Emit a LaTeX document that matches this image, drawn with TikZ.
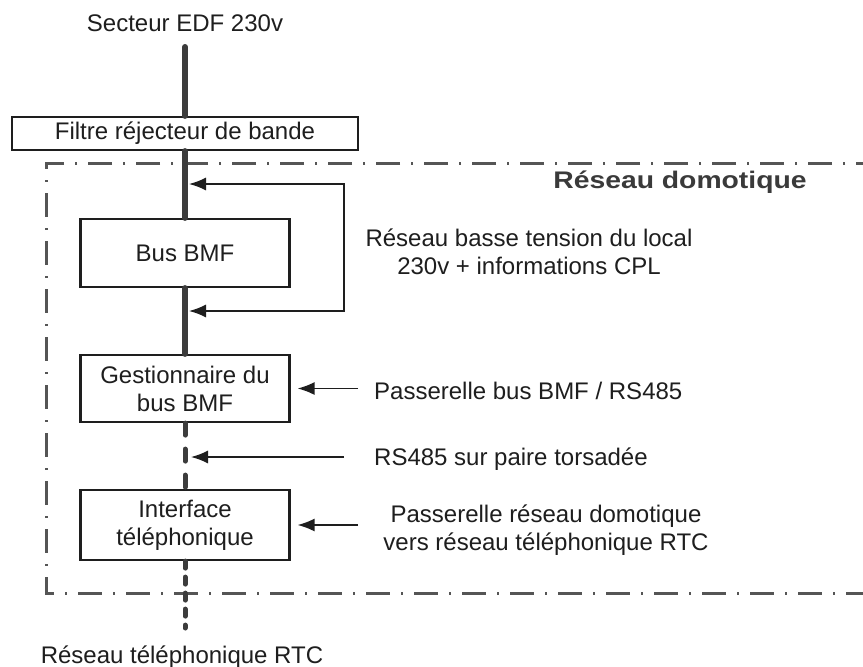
\documentclass[tikz,border=0pt]{standalone}
\usepackage{fontspec}
\setmainfont{Liberation Sans}
\usetikzlibrary{arrows.meta}
\definecolor{ink}{HTML}{1E1E1E}
\definecolor{busc}{HTML}{3C3C3C}
\definecolor{framec}{HTML}{555555}
\definecolor{titlec}{HTML}{3A3A3A}
\begin{document}
\begin{tikzpicture}[x=1pt,y=-1pt,
  every node/.style={font=\fontsize{24}{28}\selectfont, text=ink, inner sep=0pt},
  box/.style={draw=ink, line width=2.2pt, minimum width=209pt, align=center},
  busline/.style={draw=busc, line width=6pt, line cap=round},
  busdash/.style={draw=busc, line width=5pt, line cap=round, dash pattern=on 12pt off 14pt},
  busdashfine/.style={draw=busc, line width=5pt, line cap=round, dash pattern=on 7pt off 9pt},
  arr/.style={draw=ink, line width=1.5pt, -{Latex[length=17pt,width=13pt]}},
  frameline/.style={draw=framec, line width=3pt, dash pattern=on 24pt off 11pt on 2pt off 11pt},
  lbl/.style={anchor=west}]
\useasboundingbox (0,0) rectangle (863,667);
\clip (0,0) rectangle (863,667);
\fill[white] (0,0) rectangle (863,667);

% frame of the home network
\coordinate (fr1) at (880,163);
\coordinate (fr2) at (46,163);
\coordinate (fr3) at (46,593);
\coordinate (fr4) at (880,593);
\draw[frameline] (fr1) -- (fr2) -- (fr3) -- (fr4);

% blocks
\node (secteur) at (185,23.5) {Secteur EDF 230v};
\node[box, minimum width=346pt, minimum height=33pt] (filtre) at (185,133.5) {Filtre réjecteur de bande};
\node[box, minimum height=68pt] (bus) at (185,253) {Bus BMF};
\node[box, minimum height=67pt] (gest) at (185,388.5) {Gestionnaire du\\bus BMF};
\node[box, minimum height=70pt] (iface) at (185,525) {Interface\\téléphonique};
\node (rtcl) at (182,657) {Réseau téléphonique RTC};
\node[text=titlec] (titre) at (680,182.5) {\scalebox{1.18}[1]{\bfseries Réseau domotique}};

% bus lines
\coordinate (src) at (185,47);
\coordinate (rtc) at (185,628);
\draw[busline] (src) -- (filtre.north);
\draw[busline] (filtre.south) -- (bus.north);
\draw[busline] (bus.south) -- (gest.north);
\draw[busdash] (gest.south) -- (iface.north);
\draw[busdashfine] (iface.south) -- (rtc);

% labels
\node[align=center] (l1) at (529,252) {Réseau basse tension du local\\230v + informations CPL};
\node[lbl] (l2) at (374,391) {Passerelle bus BMF / RS485};
\node[lbl] (l3) at (374,459) {RS485 sur paire torsadée};
\node[align=center] (l4) at (546,530) {Passerelle réseau domotique\\vers réseau téléphonique RTC};

% arrows
\coordinate (t1) at (189,184);
\coordinate (r1) at (344,184);
\coordinate (r2) at (344,311);
\coordinate (t2) at (189,311);
\draw[arr, {Latex[length=17pt,width=13pt]}-{Latex[length=17pt,width=13pt]}] (t1) -- (r1) -- (r2) -- (t2);
\coordinate (pa) at (358,388.5);
\draw[arr] (pa) -- ([xshift=7pt]gest.east);
\coordinate (pb) at (344,457);
\coordinate (pbt) at (191,457);
\draw[arr] (pb) -- (pbt);
\coordinate (pc) at (358,525);
\draw[arr] (pc) -- ([xshift=7pt]iface.east);
\end{tikzpicture}
\end{document}
